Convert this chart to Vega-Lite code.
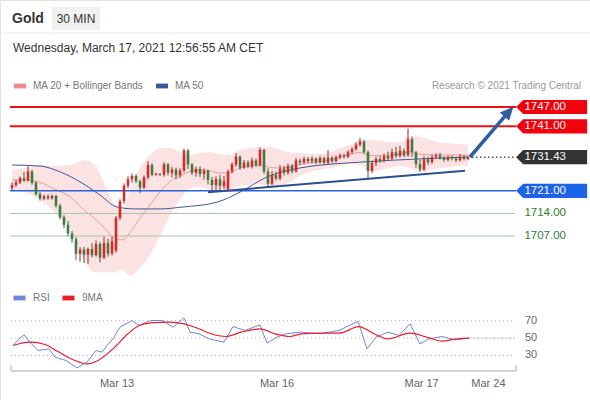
{
"$schema": "https://vega.github.io/schema/vega-lite/v6.json",
"width": 590, "height": 400,
"autosize": {"type": "none"},
"padding": 0,
"background": "white",
"config": {"view": {"stroke": "#e2e2e2"}, "scale": {"continuousPadding": 0}, "font": "Liberation Sans", "text": {"font": "Liberation Sans"}},
"datasets": {
"candles": [
{"i":0,"o":1721.9,"h":1723.6,"l":1721.2,"c":1722.8},
{"i":1,"o":1722.8,"h":1724.3,"l":1722.2,"c":1723.6},
{"i":2,"o":1723.6,"h":1725.5,"l":1723.1,"c":1724.9},
{"i":3,"o":1724.9,"h":1726.8,"l":1723.8,"c":1724.2},
{"i":4,"o":1724.2,"h":1728.6,"l":1723.9,"c":1727.0},
{"i":5,"o":1727.0,"h":1727.5,"l":1722.9,"c":1723.5},
{"i":6,"o":1723.5,"h":1724.0,"l":1719.5,"c":1720.0},
{"i":7,"o":1720.0,"h":1720.6,"l":1718.0,"c":1718.6},
{"i":8,"o":1718.6,"h":1719.8,"l":1718.1,"c":1719.3},
{"i":9,"o":1719.3,"h":1719.9,"l":1718.2,"c":1718.7},
{"i":10,"o":1718.7,"h":1719.9,"l":1718.3,"c":1719.4},
{"i":11,"o":1719.4,"h":1719.8,"l":1715.8,"c":1716.4},
{"i":12,"o":1716.4,"h":1717.0,"l":1712.2,"c":1712.8},
{"i":13,"o":1712.8,"h":1713.4,"l":1709.4,"c":1710.5},
{"i":14,"o":1710.5,"h":1711.6,"l":1707.0,"c":1707.8},
{"i":15,"o":1707.8,"h":1708.6,"l":1704.9,"c":1706.0},
{"i":16,"o":1706.0,"h":1706.6,"l":1699.6,"c":1701.5},
{"i":17,"o":1701.5,"h":1703.5,"l":1699.0,"c":1702.8},
{"i":18,"o":1702.8,"h":1703.6,"l":1698.6,"c":1701.2},
{"i":19,"o":1701.2,"h":1703.4,"l":1698.4,"c":1703.0},
{"i":20,"o":1703.0,"h":1704.8,"l":1700.4,"c":1701.0},
{"i":21,"o":1701.0,"h":1705.6,"l":1700.6,"c":1704.5},
{"i":22,"o":1704.5,"h":1705.2,"l":1698.8,"c":1700.3},
{"i":23,"o":1700.3,"h":1706.8,"l":1699.8,"c":1704.8},
{"i":24,"o":1704.8,"h":1706.2,"l":1700.6,"c":1701.6},
{"i":25,"o":1701.6,"h":1706.8,"l":1701.0,"c":1705.4},
{"i":26,"o":1702.5,"h":1713.2,"l":1701.8,"c":1712.6},
{"i":27,"o":1712.6,"h":1718.4,"l":1712.0,"c":1717.8},
{"i":28,"o":1717.8,"h":1723.3,"l":1717.0,"c":1722.6},
{"i":29,"o":1722.6,"h":1725.5,"l":1721.8,"c":1724.6},
{"i":30,"o":1724.6,"h":1726.4,"l":1723.5,"c":1725.6},
{"i":31,"o":1725.6,"h":1726.2,"l":1723.4,"c":1724.0},
{"i":32,"o":1724.0,"h":1724.5,"l":1720.3,"c":1722.0},
{"i":33,"o":1722.0,"h":1725.8,"l":1721.6,"c":1725.2},
{"i":34,"o":1725.2,"h":1730.2,"l":1724.6,"c":1729.0},
{"i":35,"o":1729.0,"h":1729.6,"l":1725.5,"c":1726.0},
{"i":36,"o":1726.0,"h":1726.6,"l":1725.7,"c":1726.3},
{"i":37,"o":1726.3,"h":1726.5,"l":1725.6,"c":1726.0},
{"i":38,"o":1726.0,"h":1729.9,"l":1725.4,"c":1729.2},
{"i":39,"o":1729.2,"h":1729.6,"l":1725.8,"c":1726.6},
{"i":40,"o":1726.6,"h":1728.4,"l":1725.2,"c":1727.6},
{"i":41,"o":1727.6,"h":1728.2,"l":1724.6,"c":1725.8},
{"i":42,"o":1725.8,"h":1728.0,"l":1725.0,"c":1727.3},
{"i":43,"o":1727.3,"h":1734.0,"l":1726.8,"c":1733.5},
{"i":44,"o":1733.5,"h":1734.0,"l":1727.8,"c":1729.2},
{"i":45,"o":1729.2,"h":1729.6,"l":1725.9,"c":1726.6},
{"i":46,"o":1726.6,"h":1728.5,"l":1725.4,"c":1727.8},
{"i":47,"o":1727.8,"h":1728.6,"l":1725.3,"c":1726.2},
{"i":48,"o":1726.2,"h":1727.9,"l":1724.5,"c":1727.2},
{"i":49,"o":1727.2,"h":1727.6,"l":1723.0,"c":1724.4},
{"i":50,"o":1724.4,"h":1725.3,"l":1720.9,"c":1722.8},
{"i":51,"o":1722.8,"h":1725.5,"l":1721.3,"c":1724.6},
{"i":52,"o":1724.6,"h":1725.9,"l":1721.0,"c":1722.5},
{"i":53,"o":1722.5,"h":1725.6,"l":1721.6,"c":1724.0},
{"i":54,"o":1721.6,"h":1727.6,"l":1721.0,"c":1727.0},
{"i":55,"o":1727.0,"h":1729.8,"l":1726.4,"c":1729.2},
{"i":56,"o":1729.2,"h":1732.7,"l":1728.5,"c":1731.6},
{"i":57,"o":1731.6,"h":1732.0,"l":1727.5,"c":1728.2},
{"i":58,"o":1728.2,"h":1730.6,"l":1727.8,"c":1729.8},
{"i":59,"o":1729.8,"h":1730.5,"l":1728.0,"c":1728.6},
{"i":60,"o":1728.6,"h":1731.3,"l":1727.9,"c":1730.4},
{"i":61,"o":1730.4,"h":1731.0,"l":1728.5,"c":1729.0},
{"i":62,"o":1729.0,"h":1734.4,"l":1728.6,"c":1733.7},
{"i":63,"o":1733.7,"h":1734.0,"l":1726.3,"c":1727.0},
{"i":64,"o":1727.0,"h":1728.0,"l":1722.0,"c":1723.2},
{"i":65,"o":1723.2,"h":1727.2,"l":1722.8,"c":1725.9},
{"i":66,"o":1725.9,"h":1727.0,"l":1724.2,"c":1724.8},
{"i":67,"o":1724.8,"h":1729.0,"l":1724.3,"c":1727.9},
{"i":68,"o":1727.9,"h":1728.8,"l":1725.8,"c":1726.6},
{"i":69,"o":1726.6,"h":1729.5,"l":1726.0,"c":1728.8},
{"i":70,"o":1728.8,"h":1729.4,"l":1726.4,"c":1727.0},
{"i":71,"o":1727.0,"h":1731.2,"l":1726.7,"c":1730.4},
{"i":72,"o":1730.4,"h":1731.0,"l":1729.0,"c":1729.8},
{"i":73,"o":1729.8,"h":1731.6,"l":1729.4,"c":1730.9},
{"i":74,"o":1730.9,"h":1731.5,"l":1729.6,"c":1730.2},
{"i":75,"o":1730.2,"h":1731.7,"l":1729.5,"c":1731.0},
{"i":76,"o":1731.0,"h":1731.4,"l":1729.3,"c":1729.9},
{"i":77,"o":1729.9,"h":1731.8,"l":1729.4,"c":1731.2},
{"i":78,"o":1731.2,"h":1731.6,"l":1729.1,"c":1729.7},
{"i":79,"o":1729.7,"h":1733.6,"l":1729.3,"c":1731.3},
{"i":80,"o":1731.3,"h":1731.8,"l":1729.6,"c":1730.2},
{"i":81,"o":1730.2,"h":1732.0,"l":1729.8,"c":1731.4},
{"i":82,"o":1731.4,"h":1732.6,"l":1730.8,"c":1732.0},
{"i":83,"o":1732.0,"h":1732.6,"l":1731.0,"c":1731.6},
{"i":84,"o":1731.6,"h":1733.6,"l":1731.2,"c":1733.0},
{"i":85,"o":1733.0,"h":1734.6,"l":1732.5,"c":1733.9},
{"i":86,"o":1733.9,"h":1736.0,"l":1733.5,"c":1735.3},
{"i":87,"o":1735.3,"h":1737.4,"l":1734.8,"c":1736.3},
{"i":88,"o":1736.3,"h":1736.8,"l":1732.5,"c":1733.0},
{"i":89,"o":1733.0,"h":1733.5,"l":1725.0,"c":1727.2},
{"i":90,"o":1727.2,"h":1730.4,"l":1726.5,"c":1729.6},
{"i":91,"o":1729.6,"h":1731.6,"l":1728.7,"c":1730.9},
{"i":92,"o":1730.9,"h":1731.8,"l":1729.6,"c":1730.2},
{"i":93,"o":1730.2,"h":1732.4,"l":1729.8,"c":1731.8},
{"i":94,"o":1731.8,"h":1733.2,"l":1730.5,"c":1731.0},
{"i":95,"o":1731.0,"h":1734.0,"l":1730.6,"c":1733.0},
{"i":96,"o":1733.0,"h":1734.6,"l":1731.2,"c":1731.8},
{"i":97,"o":1731.8,"h":1735.0,"l":1731.3,"c":1733.4},
{"i":98,"o":1733.4,"h":1734.2,"l":1731.4,"c":1732.0},
{"i":99,"o":1732.0,"h":1740.3,"l":1731.6,"c":1737.0},
{"i":100,"o":1737.0,"h":1737.8,"l":1731.5,"c":1733.0},
{"i":101,"o":1733.0,"h":1733.4,"l":1728.2,"c":1729.3},
{"i":102,"o":1729.3,"h":1730.6,"l":1726.8,"c":1727.6},
{"i":103,"o":1727.6,"h":1731.8,"l":1727.2,"c":1730.8},
{"i":104,"o":1730.8,"h":1731.6,"l":1729.0,"c":1729.9},
{"i":105,"o":1729.9,"h":1732.2,"l":1729.4,"c":1731.5},
{"i":106,"o":1731.5,"h":1732.6,"l":1731.0,"c":1732.0},
{"i":107,"o":1732.0,"h":1732.8,"l":1730.7,"c":1731.2},
{"i":108,"o":1731.2,"h":1731.7,"l":1730.0,"c":1730.6},
{"i":109,"o":1730.6,"h":1732.0,"l":1730.1,"c":1731.5},
{"i":110,"o":1731.5,"h":1732.0,"l":1730.4,"c":1731.0},
{"i":111,"o":1731.0,"h":1731.6,"l":1729.9,"c":1730.5},
{"i":112,"o":1730.5,"h":1732.3,"l":1730.1,"c":1731.6},
{"i":113,"o":1731.6,"h":1732.0,"l":1730.4,"c":1730.9},
{"i":114,"o":1730.9,"h":1731.9,"l":1730.5,"c":1731.43}
],
"bands": [
{"i":0,"u":1727.5,"l":1721.3,"m":1724.4},
{"i":3.25,"u":1728.1,"l":1720.6,"m":1724.4},
{"i":7,"u":1729.0,"l":1718.2,"m":1723.6},
{"i":10.75,"u":1728.7,"l":1714.4,"m":1721.5},
{"i":14.5,"u":1729.0,"l":1709.5,"m":1719.2},
{"i":18.25,"u":1730.6,"l":1698.9,"m":1714.8},
{"i":20.75,"u":1729.0,"l":1695.8,"m":1712.4},
{"i":23.25,"u":1722.8,"l":1695.8,"m":1709.3},
{"i":25.75,"u":1716.6,"l":1695.8,"m":1706.2},
{"i":27.5,"u":1715.1,"l":1696.5,"m":1705.8},
{"i":29.5,"u":1721.3,"l":1694.6,"m":1708.0},
{"i":32,"u":1728.1,"l":1697.1,"m":1712.6},
{"i":34.5,"u":1732.1,"l":1701.1,"m":1716.6},
{"i":37,"u":1734.3,"l":1707.0,"m":1720.7},
{"i":39.5,"u":1734.3,"l":1713.5,"m":1723.9},
{"i":42,"u":1733.0,"l":1718.2,"m":1725.6},
{"i":44.5,"u":1732.1,"l":1721.9,"m":1727.0},
{"i":47,"u":1732.7,"l":1722.2,"m":1727.5},
{"i":49.5,"u":1733.0,"l":1721.3,"m":1727.2},
{"i":52,"u":1732.4,"l":1720.6,"m":1726.5},
{"i":54.5,"u":1732.1,"l":1721.3,"m":1726.7},
{"i":57,"u":1733.7,"l":1722.5,"m":1728.1},
{"i":59.5,"u":1734.3,"l":1722.8,"m":1728.6},
{"i":62,"u":1734.6,"l":1723.1,"m":1728.9},
{"i":64.5,"u":1734.6,"l":1721.9,"m":1728.3},
{"i":67,"u":1733.7,"l":1722.5,"m":1728.1},
{"i":69.5,"u":1733.0,"l":1723.8,"m":1728.4},
{"i":72,"u":1732.7,"l":1725.6,"m":1729.2},
{"i":74.5,"u":1732.4,"l":1726.9,"m":1729.7},
{"i":77,"u":1732.4,"l":1727.5,"m":1730.0},
{"i":79.5,"u":1733.0,"l":1728.1,"m":1730.6},
{"i":82,"u":1734.3,"l":1728.7,"m":1731.5},
{"i":84.5,"u":1735.2,"l":1729.3,"m":1732.3},
{"i":87,"u":1736.8,"l":1729.0,"m":1732.9},
{"i":89.5,"u":1736.8,"l":1726.9,"m":1731.9},
{"i":92,"u":1736.5,"l":1727.5,"m":1732.0},
{"i":94.5,"u":1736.1,"l":1728.1,"m":1732.1},
{"i":97,"u":1736.1,"l":1728.7,"m":1732.4},
{"i":99.5,"u":1738.0,"l":1728.1,"m":1733.1},
{"i":102,"u":1737.7,"l":1726.9,"m":1732.3},
{"i":104.5,"u":1736.8,"l":1727.5,"m":1732.2},
{"i":107,"u":1736.1,"l":1728.1,"m":1732.1},
{"i":109.5,"u":1735.8,"l":1728.4,"m":1732.1},
{"i":112,"u":1735.5,"l":1728.7,"m":1732.1},
{"i":114,"u":1735.2,"l":1728.7,"m":1732.0}
],
"ma50": [
{"i":0,"v":1729.0},{"i":7,"v":1728.7},{"i":12,"v":1726.9},{"i":17,"v":1723.8},{"i":22,"v":1719.7},
{"i":26.25,"v":1716.0},{"i":30.75,"v":1715.4},{"i":37,"v":1715.4},{"i":42.75,"v":1716.0},{"i":51.25,"v":1717.5},
{"i":57,"v":1720.6},{"i":63.75,"v":1725.3},{"i":72,"v":1728.1},{"i":87,"v":1729.9},{"i":102,"v":1730.9},{"i":114,"v":1731.5}
],
"levels": [
{"p":1747,"lab":"1747.00","k":"r"},
{"p":1741,"lab":"1741.00","k":"r"},
{"p":1731.43,"lab":"1731.43","k":"k"},
{"p":1721,"lab":"1721.00","k":"b"},
{"p":1714,"lab":"1714.00","k":"g"},
{"p":1707,"lab":"1707.00","k":"g"}
],
"rsi": [
{"i":0.25,"v":41.4},{"i":1.75,"v":49},{"i":3,"v":53.6},{"i":4.5,"v":45.2},{"i":6.5,"v":35.7},{"i":9.25,"v":37.6},
{"i":10.75,"v":28.1},{"i":13.5,"v":24.3},{"i":16.25,"v":15.9},{"i":18.75,"v":22.4},{"i":21,"v":35.7},{"i":22.5,"v":33.8},
{"i":23.75,"v":41.4},{"i":25.25,"v":49},{"i":27,"v":62.4},{"i":30,"v":70},{"i":31.75,"v":64.3},{"i":34.75,"v":70},
{"i":37.5,"v":70},{"i":40.25,"v":62.4},{"i":43,"v":73},{"i":44.5,"v":56.7},{"i":46.75,"v":54.8},{"i":49.25,"v":49},
{"i":53,"v":45.2},{"i":55.25,"v":63.1},{"i":58.25,"v":58.6},{"i":62,"v":65},{"i":63.75,"v":44.1},{"i":66.25,"v":51},
{"i":68.5,"v":54.8},{"i":72.25,"v":56.7},{"i":77,"v":54.8},{"i":81.75,"v":58.6},{"i":86.5,"v":69.2},{"i":88.75,"v":37.6},
{"i":91,"v":51},{"i":94,"v":56.7},{"i":96.75,"v":52.9},{"i":99.5,"v":66.2},{"i":102,"v":43.3},{"i":104.25,"v":49},
{"i":107.5,"v":51.7},{"i":110.75,"v":47.9},{"i":114.25,"v":49.8}
],
"rsima": [
{"i":0.25,"v":41.4},{"i":4.5,"v":45.2},{"i":8.25,"v":42.6},{"i":11,"v":35.7},{"i":15.75,"v":24.3},{"i":18.75,"v":20.5},
{"i":21.5,"v":24.3},{"i":25.25,"v":37.6},{"i":29,"v":54.8},{"i":31.75,"v":64.3},{"i":34.75,"v":67.3},{"i":39.25,"v":68.1},
{"i":43,"v":66.2},{"i":46.75,"v":60.5},{"i":49.75,"v":54.8},{"i":53.5,"v":51.7},{"i":57.25,"v":56.7},{"i":62,"v":60.5},
{"i":65.75,"v":54.8},{"i":69.5,"v":51.7},{"i":72.25,"v":54.8},{"i":77,"v":55.5},{"i":81.75,"v":55.5},{"i":86.75,"v":63.1},
{"i":90.25,"v":55.5},{"i":94,"v":49},{"i":99.5,"v":55.5},{"i":104.25,"v":50.2},{"i":107.5,"v":46.4},{"i":110.75,"v":48.7},
{"i":114.25,"v":49.8}
]
},
"layer": [
{
"layer": [
{"data": {"name": "bands"}, "mark": {"type": "area", "interpolate": "monotone", "color": "#fcdede", "opacity": 0.85},
 "encoding": {"x": {"field": "i", "type": "quantitative", "scale": {"domain": [-3, 144.5], "nice": false, "zero": false, "padding": 0}, "axis": null},
  "y": {"field": "l", "type": "quantitative", "scale": {"domain": [1656.15, 1780.18], "nice": false, "zero": false}, "axis": null},
  "y2": {"field": "u"}}},
{"data": {"name": "bands"}, "mark": {"type": "line", "interpolate": "monotone", "color": "#f09a9a", "strokeWidth": 1},
 "encoding": {"x": {"field": "i", "type": "quantitative", "scale": {"domain": [-3, 144.5], "nice": false, "zero": false, "padding": 0}, "axis": null},
  "y": {"field": "m", "type": "quantitative", "scale": {"domain": [1656.15, 1780.18], "nice": false, "zero": false}, "axis": null}}},
{"data": {"name": "ma50"}, "mark": {"type": "line", "interpolate": "monotone", "color": "#3d5a9a", "strokeWidth": 1},
 "encoding": {"x": {"field": "i", "type": "quantitative", "scale": {"domain": [-3, 144.5], "nice": false, "zero": false, "padding": 0}, "axis": null},
  "y": {"field": "v", "type": "quantitative", "scale": {"domain": [1656.15, 1780.18], "nice": false, "zero": false}, "axis": null}}},
{"data": {"name": "levels"}, "transform": [{"filter": "datum.k == 'g'"}], "mark": {"type": "rule", "color": "#a3c89f", "strokeWidth": 1},
 "encoding": {"x": {"datum": -0.5, "type": "quantitative", "scale": {"domain": [-3, 144.5], "nice": false, "zero": false, "padding": 0}, "axis": null}, "x2": {"datum": 125.75},
  "y": {"field": "p", "type": "quantitative", "scale": {"domain": [1656.15, 1780.18], "nice": false, "zero": false}, "axis": null}}},
{"data": {"name": "levels"}, "transform": [{"filter": "datum.k == 'r'"}], "mark": {"type": "rule", "color": "#ec1010", "strokeWidth": 2},
 "encoding": {"x": {"datum": -0.5, "type": "quantitative", "scale": {"domain": [-3, 144.5], "nice": false, "zero": false, "padding": 0}, "axis": null}, "x2": {"datum": 126},
  "y": {"field": "p", "type": "quantitative", "scale": {"domain": [1656.15, 1780.18], "nice": false, "zero": false}, "axis": null}}},
{"data": {"name": "levels"}, "transform": [{"filter": "datum.k == 'b'"}], "mark": {"type": "rule", "color": "#2a63d9", "strokeWidth": 1.5},
 "encoding": {"x": {"datum": -0.5, "type": "quantitative", "scale": {"domain": [-3, 144.5], "nice": false, "zero": false, "padding": 0}, "axis": null}, "x2": {"datum": 126},
  "y": {"field": "p", "type": "quantitative", "scale": {"domain": [1656.15, 1780.18], "nice": false, "zero": false}, "axis": null}}},
{"data": {"name": "levels"}, "transform": [{"filter": "datum.k == 'k'"}], "mark": {"type": "rule", "color": "#555555", "strokeWidth": 1.5, "strokeDash": [1.5, 2.5]},
 "encoding": {"x": {"datum": 115, "type": "quantitative", "scale": {"domain": [-3, 144.5], "nice": false, "zero": false, "padding": 0}, "axis": null}, "x2": {"datum": 125.5},
  "y": {"field": "p", "type": "quantitative", "scale": {"domain": [1656.15, 1780.18], "nice": false, "zero": false}, "axis": null}}},
{"data": {"values": [{"i": 49, "p": 1720.6}, {"i": 113.25, "p": 1727.2}]}, "mark": {"type": "line", "color": "#2d4f92", "strokeWidth": 2},
 "encoding": {"x": {"field": "i", "type": "quantitative", "scale": {"domain": [-3, 144.5], "nice": false, "zero": false, "padding": 0}, "axis": null},
  "y": {"field": "p", "type": "quantitative", "scale": {"domain": [1656.15, 1780.18], "nice": false, "zero": false}, "axis": null}}},
{"data": {"name": "candles"}, "mark": {"type": "rule", "strokeWidth": 1},
 "encoding": {"x": {"field": "i", "type": "quantitative", "scale": {"domain": [-3, 144.5], "nice": false, "zero": false, "padding": 0}, "axis": null},
  "y": {"field": "l", "type": "quantitative", "scale": {"domain": [1656.15, 1780.18], "nice": false, "zero": false}, "axis": null}, "y2": {"field": "h"},
  "color": {"condition": {"test": "datum.c >= datum.o", "value": "#a52020"}, "value": "#35603a"}}},
{"data": {"name": "candles"}, "mark": {"type": "bar", "width": 2.6},
 "encoding": {"x": {"field": "i", "type": "quantitative", "scale": {"domain": [-3, 144.5], "nice": false, "zero": false, "padding": 0}, "axis": null},
  "y": {"field": "o", "type": "quantitative", "scale": {"domain": [1656.15, 1780.18], "nice": false, "zero": false}, "axis": null}, "y2": {"field": "c"},
  "color": {"condition": {"test": "datum.c >= datum.o", "value": "#d42a2a"}, "value": "#3f7a42"}}},
{"data": {"values": [{"i": 114.5, "p": 1731.5}, {"i": 124, "p": 1745.23}]}, "mark": {"type": "line", "color": "#2f5d9e", "strokeWidth": 3.5},
 "encoding": {"x": {"field": "i", "type": "quantitative", "scale": {"domain": [-3, 144.5], "nice": false, "zero": false, "padding": 0}, "axis": null},
  "y": {"field": "p", "type": "quantitative", "scale": {"domain": [1656.15, 1780.18], "nice": false, "zero": false}, "axis": null}}},
{"data": {"values": [{}]}, "mark": {"type": "point", "shape": "M 0 -1 L 0.78 0.65 L -0.78 0.65 Z", "size": 256, "filled": true, "opacity": 1, "color": "#2f5d9e", "angle": 41.8},
 "encoding": {"x": {"datum": 124, "type": "quantitative", "scale": {"domain": [-3, 144.5], "nice": false, "zero": false, "padding": 0}, "axis": null},
  "y": {"datum": 1745.23, "type": "quantitative", "scale": {"domain": [1656.15, 1780.18], "nice": false, "zero": false}, "axis": null}}},
{"data": {"name": "levels"}, "transform": [{"filter": "datum.k != 'g'"}], "mark": {"type": "point", "shape": "M -1 0 L -0.8 -0.2 L 1 -0.2 L 1 0.2 L -0.8 0.2 Z", "size": 5041, "filled": true, "opacity": 1},
 "encoding": {"x": {"datum": 134.9, "type": "quantitative", "scale": {"domain": [-3, 144.5], "nice": false, "zero": false, "padding": 0}, "axis": null},
  "y": {"field": "p", "type": "quantitative", "scale": {"domain": [1656.15, 1780.18], "nice": false, "zero": false}, "axis": null},
  "color": {"field": "k", "type": "nominal", "scale": {"domain": ["r", "k", "b"], "range": ["#f2000c", "#333333", "#1d63ea"]}, "legend": null}}},
{"data": {"name": "levels"}, "mark": {"type": "text", "fontSize": 11.5, "align": "center", "baseline": "middle"},
 "encoding": {"x": {"datum": 133.3, "type": "quantitative", "scale": {"domain": [-3, 144.5], "nice": false, "zero": false, "padding": 0}, "axis": null},
  "y": {"field": "p", "type": "quantitative", "scale": {"domain": [1656.15, 1780.18], "nice": false, "zero": false}, "axis": null},
  "text": {"field": "lab"},
  "color": {"condition": {"test": "datum.k == 'g'", "value": "#2f7d32"}, "value": "#ffffff"}}},
{"data": {"values": [{}]}, "mark": {"type": "rule", "color": "#ececec", "strokeWidth": 1},
 "encoding": {"x": {"datum": -3, "type": "quantitative", "scale": {"domain": [-3, 144.5], "nice": false, "zero": false, "padding": 0}, "axis": null}, "x2": {"datum": 144.5},
  "y": {"datum": 1769.95, "type": "quantitative", "scale": {"domain": [1656.15, 1780.18], "nice": false, "zero": false}, "axis": null}}},
{"data": {"values": [{}]}, "mark": {"type": "point", "shape": "M -1 -0.48 L 1 -0.48 L 1 0.48 L -1 0.48 Z", "size": 2304, "filled": true, "opacity": 1, "color": "#f1f1f1"},
 "encoding": {"x": {"datum": 16, "type": "quantitative", "scale": {"domain": [-3, 144.5], "nice": false, "zero": false, "padding": 0}, "axis": null},
  "y": {"datum": 1774.44, "type": "quantitative", "scale": {"domain": [1656.15, 1780.18], "nice": false, "zero": false}, "axis": null}}},
{"data": {"values": [{}]}, "mark": {"type": "text", "text": "Gold", "fontSize": 14, "fontWeight": "bold", "align": "left", "baseline": "middle", "color": "#333333"},
 "encoding": {"x": {"datum": 0, "type": "quantitative", "scale": {"domain": [-3, 144.5], "nice": false, "zero": false, "padding": 0}, "axis": null},
  "y": {"datum": 1774.29, "type": "quantitative", "scale": {"domain": [1656.15, 1780.18], "nice": false, "zero": false}, "axis": null}}},
{"data": {"values": [{}]}, "mark": {"type": "text", "text": "30 MIN", "fontSize": 12, "align": "center", "baseline": "middle", "color": "#333333"},
 "encoding": {"x": {"datum": 16, "type": "quantitative", "scale": {"domain": [-3, 144.5], "nice": false, "zero": false, "padding": 0}, "axis": null},
  "y": {"datum": 1774.29, "type": "quantitative", "scale": {"domain": [1656.15, 1780.18], "nice": false, "zero": false}, "axis": null}}},
{"data": {"values": [{}]}, "mark": {"type": "text", "text": "Wednesday, March 17, 2021 12:56:55 AM CET", "fontSize": 12, "align": "left", "baseline": "middle", "color": "#333333"},
 "encoding": {"x": {"datum": 0.25, "type": "quantitative", "scale": {"domain": [-3, 144.5], "nice": false, "zero": false, "padding": 0}, "axis": null},
  "y": {"datum": 1765.3, "type": "quantitative", "scale": {"domain": [1656.15, 1780.18], "nice": false, "zero": false}, "axis": null}}},
{"data": {"values": [{}]}, "mark": {"type": "point", "shape": "M -1 -0.4 L 1 -0.4 L 1 0.4 L -1 0.4 Z", "size": 144, "filled": true, "opacity": 1, "color": "#f08a8a"},
 "encoding": {"x": {"datum": 2, "type": "quantitative", "scale": {"domain": [-3, 144.5], "nice": false, "zero": false, "padding": 0}, "axis": null},
  "y": {"datum": 1753.51, "type": "quantitative", "scale": {"domain": [1656.15, 1780.18], "nice": false, "zero": false}, "axis": null}}},
{"data": {"values": [{}]}, "mark": {"type": "text", "text": "MA 20 + Bollinger Bands", "fontSize": 10, "align": "left", "baseline": "middle", "color": "#777777"},
 "encoding": {"x": {"datum": 5.25, "type": "quantitative", "scale": {"domain": [-3, 144.5], "nice": false, "zero": false, "padding": 0}, "axis": null},
  "y": {"datum": 1753.51, "type": "quantitative", "scale": {"domain": [1656.15, 1780.18], "nice": false, "zero": false}, "axis": null}}},
{"data": {"values": [{}]}, "mark": {"type": "point", "shape": "M -1 -0.4 L 1 -0.4 L 1 0.4 L -1 0.4 Z", "size": 144, "filled": true, "opacity": 1, "color": "#345a9a"},
 "encoding": {"x": {"datum": 37.5, "type": "quantitative", "scale": {"domain": [-3, 144.5], "nice": false, "zero": false, "padding": 0}, "axis": null},
  "y": {"datum": 1753.51, "type": "quantitative", "scale": {"domain": [1656.15, 1780.18], "nice": false, "zero": false}, "axis": null}}},
{"data": {"values": [{}]}, "mark": {"type": "text", "text": "MA 50", "fontSize": 10, "align": "left", "baseline": "middle", "color": "#777777"},
 "encoding": {"x": {"datum": 40.75, "type": "quantitative", "scale": {"domain": [-3, 144.5], "nice": false, "zero": false, "padding": 0}, "axis": null},
  "y": {"datum": 1753.51, "type": "quantitative", "scale": {"domain": [1656.15, 1780.18], "nice": false, "zero": false}, "axis": null}}},
{"data": {"values": [{}]}, "mark": {"type": "text", "text": "Research © 2021 Trading Central", "fontSize": 10, "align": "right", "baseline": "middle", "color": "#999999"},
 "encoding": {"x": {"datum": 142.25, "type": "quantitative", "scale": {"domain": [-3, 144.5], "nice": false, "zero": false, "padding": 0}, "axis": null},
  "y": {"datum": 1753.51, "type": "quantitative", "scale": {"domain": [1656.15, 1780.18], "nice": false, "zero": false}, "axis": null}}}
]
},
{
"layer": [
{"data": {"values": [{"v": 70}, {"v": 50}, {"v": 30}]}, "mark": {"type": "rule", "color": "#bbbbbb", "strokeWidth": 1, "strokeDash": [1, 3]},
 "encoding": {"x": {"datum": -0.25, "type": "quantitative", "scale": {"domain": [-3, 144.5], "nice": false, "zero": false, "padding": 0}, "axis": null}, "x2": {"datum": 125.75},
  "y": {"field": "v", "type": "quantitative", "scale": {"domain": [-20.86, 436.3], "nice": false, "zero": false}, "axis": null}}},
{"data": {"values": [{"v": 70}, {"v": 50}, {"v": 30}]}, "mark": {"type": "text", "fontSize": 11, "align": "left", "baseline": "middle", "color": "#666666"},
 "encoding": {"x": {"datum": 128.25, "type": "quantitative", "scale": {"domain": [-3, 144.5], "nice": false, "zero": false, "padding": 0}, "axis": null},
  "y": {"field": "v", "type": "quantitative", "scale": {"domain": [-20.86, 436.3], "nice": false, "zero": false}, "axis": null}, "text": {"field": "v"}}},
{"data": {"values": [{"i": 114.25, "v": 49.8}, {"i": 125.75, "v": 49.8}]}, "mark": {"type": "line", "color": "#8c9ede", "strokeWidth": 1, "strokeDash": [1.5, 2.5]},
 "encoding": {"x": {"field": "i", "type": "quantitative", "scale": {"domain": [-3, 144.5], "nice": false, "zero": false, "padding": 0}, "axis": null},
  "y": {"field": "v", "type": "quantitative", "scale": {"domain": [-20.86, 436.3], "nice": false, "zero": false}, "axis": null}}},
{"data": {"name": "rsi"}, "mark": {"type": "line", "color": "#7086dc", "strokeWidth": 1},
 "encoding": {"x": {"field": "i", "type": "quantitative", "scale": {"domain": [-3, 144.5], "nice": false, "zero": false, "padding": 0}, "axis": null},
  "y": {"field": "v", "type": "quantitative", "scale": {"domain": [-20.86, 436.3], "nice": false, "zero": false}, "axis": null}}},
{"data": {"name": "rsima"}, "mark": {"type": "line", "color": "#ec1c2a", "strokeWidth": 1.2, "interpolate": "monotone"},
 "encoding": {"x": {"field": "i", "type": "quantitative", "scale": {"domain": [-3, 144.5], "nice": false, "zero": false, "padding": 0}, "axis": null},
  "y": {"field": "v", "type": "quantitative", "scale": {"domain": [-20.86, 436.3], "nice": false, "zero": false}, "axis": null}}},
{"data": {"values": [{}]}, "mark": {"type": "rule", "color": "#aaaaaa", "strokeWidth": 1},
 "encoding": {"x": {"datum": -0.25, "type": "quantitative", "scale": {"domain": [-3, 144.5], "nice": false, "zero": false, "padding": 0}, "axis": null}, "x2": {"datum": 126},
  "y": {"datum": 12.3, "type": "quantitative", "scale": {"domain": [-20.86, 436.3], "nice": false, "zero": false}, "axis": null}}},
{"data": {"values": [{"i": -0.25}, {"i": 126}]}, "mark": {"type": "rule", "color": "#aaaaaa", "strokeWidth": 1},
 "encoding": {"x": {"field": "i", "type": "quantitative", "scale": {"domain": [-3, 144.5], "nice": false, "zero": false, "padding": 0}, "axis": null},
  "y": {"datum": 12.3, "type": "quantitative", "scale": {"domain": [-20.86, 436.3], "nice": false, "zero": false}, "axis": null}, "y2": {"datum": 19}}},
{"data": {"values": [{"t": "Mar 13", "i": 26.25}, {"t": "Mar 16", "i": 66.25}, {"t": "Mar 17", "i": 102.4}, {"t": "Mar 24", "i": 119.1}]},
 "mark": {"type": "text", "fontSize": 11, "align": "center", "baseline": "middle", "color": "#666666"},
 "encoding": {"x": {"field": "i", "type": "quantitative", "scale": {"domain": [-3, 144.5], "nice": false, "zero": false, "padding": 0}, "axis": null},
  "y": {"datum": -2.57, "type": "quantitative", "scale": {"domain": [-20.86, 436.3], "nice": false, "zero": false}, "axis": null}, "text": {"field": "t"}}},
{"data": {"values": [{}]}, "mark": {"type": "point", "shape": "M -1 -0.4 L 1 -0.4 L 1 0.4 L -1 0.4 Z", "size": 144, "filled": true, "opacity": 1, "color": "#6f86de"},
 "encoding": {"x": {"datum": 1.875, "type": "quantitative", "scale": {"domain": [-3, 144.5], "nice": false, "zero": false, "padding": 0}, "axis": null},
  "y": {"datum": 95.71, "type": "quantitative", "scale": {"domain": [-20.86, 436.3], "nice": false, "zero": false}, "axis": null}}},
{"data": {"values": [{}]}, "mark": {"type": "text", "text": "RSI", "fontSize": 10, "align": "left", "baseline": "middle", "color": "#777777"},
 "encoding": {"x": {"datum": 5.25, "type": "quantitative", "scale": {"domain": [-3, 144.5], "nice": false, "zero": false, "padding": 0}, "axis": null},
  "y": {"datum": 95.71, "type": "quantitative", "scale": {"domain": [-20.86, 436.3], "nice": false, "zero": false}, "axis": null}}},
{"data": {"values": [{}]}, "mark": {"type": "point", "shape": "M -1 -0.4 L 1 -0.4 L 1 0.4 L -1 0.4 Z", "size": 144, "filled": true, "opacity": 1, "color": "#ee1c25"},
 "encoding": {"x": {"datum": 14.125, "type": "quantitative", "scale": {"domain": [-3, 144.5], "nice": false, "zero": false, "padding": 0}, "axis": null},
  "y": {"datum": 95.71, "type": "quantitative", "scale": {"domain": [-20.86, 436.3], "nice": false, "zero": false}, "axis": null}}},
{"data": {"values": [{}]}, "mark": {"type": "text", "text": "9MA", "fontSize": 10, "align": "left", "baseline": "middle", "color": "#777777"},
 "encoding": {"x": {"datum": 17.5, "type": "quantitative", "scale": {"domain": [-3, 144.5], "nice": false, "zero": false, "padding": 0}, "axis": null},
  "y": {"datum": 95.71, "type": "quantitative", "scale": {"domain": [-20.86, 436.3], "nice": false, "zero": false}, "axis": null}}}
]
}
],
"resolve": {"scale": {"y": "independent"}}
}
